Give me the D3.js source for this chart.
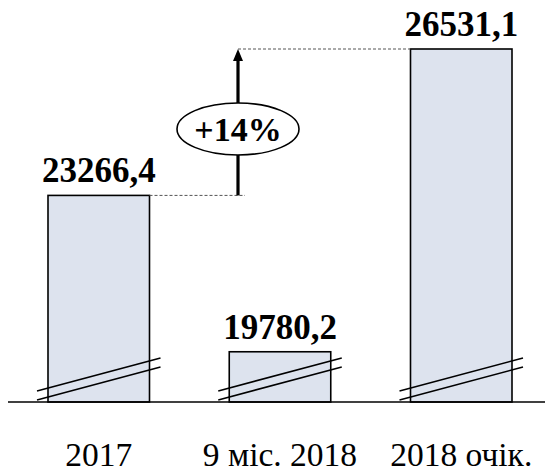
<!DOCTYPE html>
<html><head><meta charset="utf-8">
<script src="https://cdn.jsdelivr.net/npm/d3@7"></script>
<style>body{margin:0;background:#fff}svg{display:block}</style>
</head><body>
<script>
const categories = ["2017", "9 міс. 2018", "2018 очік."];
const values = [23266.4, 19780.2, 26531.1];
const valueLabels = ["23266,4", "19780,2", "26531,1"];
const growthLabel = "+14%";

const W = 545, H = 475;
const svg = d3.select("body").append("svg").attr("width", W).attr("height", H);
const serif = "'Liberation Serif','Times New Roman',serif";

const x = d3.scaleBand().domain(categories).range([48, 512]).paddingInner(0.44).paddingOuter(0);
const y = d3.scaleLinear().domain([18660, 26531.1]).range([402, 49]);
const base = y.range()[0];

// bars
svg.selectAll("rect.bar").data(values).join("rect")
  .attr("x", (d, i) => x(categories[i]))
  .attr("y", d => y(d))
  .attr("width", x.bandwidth())
  .attr("height", d => base - y(d))
  .attr("fill", "#dde3ee").attr("stroke", "#000").attr("stroke-width", 1.6);

// break marks
categories.forEach(c => {
  const x0 = x(c) - 11, x1 = x(c) + x.bandwidth() + 11;
  [[391, 358], [400, 367]].forEach(([ya, yb]) => {
    svg.append("line").attr("x1", x0).attr("y1", ya).attr("x2", x1).attr("y2", yb)
      .attr("stroke", "#000").attr("stroke-width", 1.6);
  });
});

// axis line
svg.append("line").attr("x1", 8).attr("x2", W).attr("y1", base).attr("y2", base)
  .attr("stroke", "#000").attr("stroke-width", 1.6);

// value labels
svg.selectAll("text.val").data(values).join("text")
  .attr("x", (d, i) => x(categories[i]) + x.bandwidth() / 2)
  .attr("y", d => y(d) - 13)
  .attr("text-anchor", "middle")
  .attr("font-family", serif).attr("font-weight", "bold").attr("font-size", 35)
  .text((d, i) => valueLabels[i]);

// category labels
svg.selectAll("text.cat").data(categories).join("text")
  .attr("x", d => x(d) + x.bandwidth() / 2)
  .attr("y", 466)
  .attr("text-anchor", "middle")
  .attr("font-family", serif).attr("font-size", 33.5)
  .text(d => d);

// growth arrow
const ax = 238;
const yFrom = y(values[0]), yTo = y(values[2]);
svg.append("line").attr("x1", x(categories[0]) + x.bandwidth()).attr("x2", ax + 7)
  .attr("y1", yFrom).attr("y2", yFrom)
  .attr("stroke", "#555").attr("stroke-width", 1).attr("stroke-dasharray", "3,2");
svg.append("line").attr("x1", ax).attr("x2", x(categories[2]))
  .attr("y1", yTo).attr("y2", yTo)
  .attr("stroke", "#555").attr("stroke-width", 1).attr("stroke-dasharray", "3,2");
svg.append("line").attr("x1", ax).attr("x2", ax).attr("y1", yFrom).attr("y2", yTo + 10)
  .attr("stroke", "#000").attr("stroke-width", 3.2);
svg.append("path")
  .attr("d", `M${ax},${yTo} L${ax - 5},${yTo + 12} L${ax + 5},${yTo + 12} Z`)
  .attr("fill", "#000");
svg.append("ellipse").attr("cx", ax).attr("cy", 129).attr("rx", 61).attr("ry", 26)
  .attr("fill", "#fff").attr("stroke", "#000").attr("stroke-width", 1.6);
svg.append("text").attr("x", ax).attr("y", 141).attr("text-anchor", "middle")
  .attr("font-family", serif).attr("font-weight", "bold").attr("font-size", 34)
  .text(growthLabel);
</script>
</body></html>
